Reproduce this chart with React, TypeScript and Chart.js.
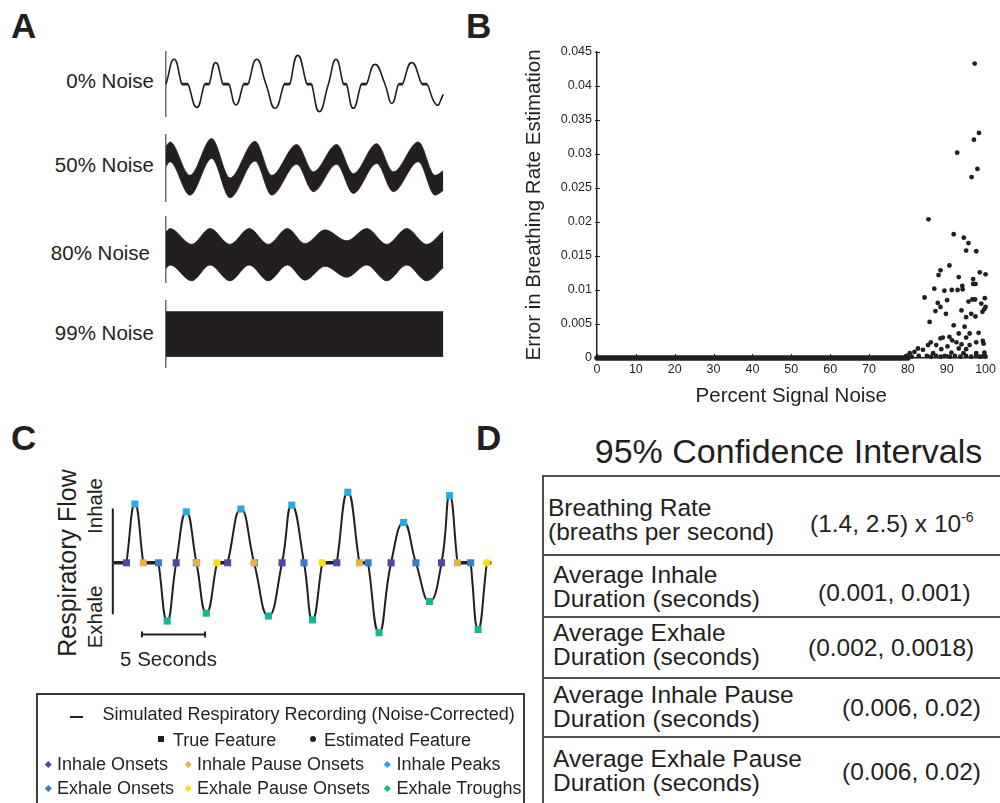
import React, { useEffect, useRef } from "react";
import { Chart, registerables } from "chart.js";
Chart.register(...registerables);

const FONT = "'Liberation Sans', Arial, Helvetica, sans-serif";
const INK = "#231F20";
const AXIS_GREY = "#6D6E71";

// ---------------- Panel A: simulated signals at several noise levels ----------------
const noiseLabels = ["0% Noise", "50% Noise", "80% Noise", "99% Noise"];

const cleanTime = [0, 0.58, 1.13, 1.61, 2.22, 2.77, 3.13, 3.59, 4.09, 4.57, 5.05, 5.58, 5.94, 6.55, 7.22, 7.87, 8.52, 8.95, 9.51, 10.16, 10.52, 11.07, 11.72, 12.27, 12.8, 13.05, 13.52, 14.08, 14.49, 15.09, 15.81, 16.3, 16.77, 17.09, 17.74, 18.46, 18.87, 19.55, 20.02];
const cleanFlow = [0, 1.14, 0, 0, -1.06, 0, 0, 0.99, 0, 0, -0.95, 0, 0, 1.14, 0, -1.1, 0, 0, 1.32, 0, 0, -1.26, 0, 1.14, 0, 0, -1.1, 0, 0, 0.91, 0, -0.88, 0, 0, 0.99, 0, 0, -0.95, -0.47];

const noise50Time = [0, 0.29, 1.73, 3.3, 4.62, 6.43, 7.63, 9.44, 10.64, 12.32, 13.52, 15.21, 16.41, 18.22, 19.42, 20.02];
const noise50Center = [0.55, 0.76, -0.76, 0.91, -0.88, 0.79, -0.76, 0.64, -0.6, 0.64, -0.68, 0.68, -0.6, 0.76, -0.76, -0.55];
const noise50Spread = 0.45;

const noise80Time = [0, 0.29, 1.86, 3.18, 4.62, 6.01, 7.39, 8.76, 10.04, 11.48, 13.05, 14.49, 15.94, 17.38, 18.82, 20.02];
const noise80Center = [0.2, 0.36, -0.36, 0.36, -0.36, 0.36, -0.36, 0.36, -0.33, 0.3, -0.2, 0.36, -0.36, 0.36, -0.36, 0.24];
const noise80Spread = 0.83;

const noise99Time = [0, 20.02];
const noise99Center = [0, 0];
const noise99Spread = 1.02;

// ---------------- Panel B: error vs noise ----------------
const errorNoise = [
  97.2, 98.3, 97.0, 92.7, 97.9, 96.4,
  85.3, 91.8, 94.4, 95.6, 95.0, 97.6, 88.4, 90.7, 87.9, 93.1, 98.5, 100, 96.8, 97.4, 96.8, 94.0, 86.8, 89.4,
  91.3, 92.8, 94.1, 84.3, 90.1, 99.8, 87.7, 95.6, 96.6, 97.3, 98.9, 88.4, 100, 99.7, 87.1, 89.8, 93.8, 99.2,
  96.3, 95.0, 97.4, 85.6, 91.8, 94.6,
  93.1, 95.9, 98.2, 90.7, 88.4, 89.0, 91.4, 95.0, 85.9, 85.2, 87.3, 92.5, 93.8, 97.6, 99.3, 99.5, 95.9, 90.2,
  82.6, 83.9, 88.6, 93.1, 95.0, 80.5, 81.7, 86.5, 91.2, 94.3, 97.6, 99.7,
  79.6, 81.0, 82.8, 84.9, 86.0, 87.3, 88.5, 89.5, 90.8, 92.1, 93.5, 95.0, 96.3, 97.6, 98.6, 99.5, 100,
];
const errorValue = [
  0.0433, 0.0331, 0.0321, 0.0302, 0.0278, 0.0266,
  0.0204, 0.0182, 0.0177, 0.0169, 0.0158, 0.0157, 0.0129, 0.0136, 0.0122, 0.0119, 0.0126, 0.0123, 0.0116, 0.0109, 0.0109, 0.0106, 0.0102, 0.0099,
  0.01, 0.01, 0.0101, 0.0089, 0.0085, 0.0088, 0.0081, 0.0083, 0.0086, 0.0086, 0.008, 0.0075, 0.0075, 0.0072, 0.0069, 0.0065, 0.007, 0.0068,
  0.0065, 0.006, 0.0061, 0.0053, 0.0048, 0.0046,
  0.0036, 0.0036, 0.0037, 0.0031, 0.0029, 0.003, 0.0026, 0.003, 0.0023, 0.0019, 0.0019, 0.0023, 0.002, 0.0023, 0.0025, 0.0021, 0.0019, 0.0017,
  0.0014, 0.0012, 0.0013, 0.0014, 0.0013, 0.0007, 0.0009, 0.0007, 0.0008, 0.0007, 0.0007, 0.0008,
  0.0003, 0.0002, 0.0003, 0.0003, 0.0002, 0.0003, 0.0002, 0.0003, 0.0002, 0.0003, 0.0002, 0.0003, 0.0002, 0.0003, 0.0002, 0.0003, 0.0002,
];
const zeroErrorNoise = [0, 80];
const zeroErrorValue = [0, 0];
const errorTickLabels = ["0", "0.005", "0.01", "0.015", "0.02", "0.025", "0.03", "0.035", "0.04", "0.045"];
const noiseTickLabels = ["0", "10", "20", "30", "40", "50", "60", "70", "80", "90", "100"];

// ---------------- Panel C: respiratory flow with features ----------------
const flowTime = [0.08, 1.08, 1.75, 2.41, 3.62, 4.31, 5.02, 5.82, 6.63, 7.41, 8.25, 9.1, 10.15, 11.2, 12.33, 13.41, 14.18, 15.15, 15.82, 16.59, 17.75, 18.62, 19.54, 20.23, 21.1, 22.05, 23.05, 24.02, 25.1, 26.05, 26.69, 27.31, 28.36, 28.95, 29.64, 30.0];
const flowValue = [0, 0, 1.05, 0, 0, -1.04, 0, 0.91, 0, -0.9, 0, 0, 0.96, 0, -0.95, 0, 1.03, 0, -1.02, 0, 0, 1.26, 0, 0, -1.25, 0, 0.72, 0, -0.69, 0, 1.2, 0, 0, -1.19, 0, 0];

const inhaleOnsetTime = [1.08, 5.02, 9.1, 13.41, 17.75, 22.05, 26.05];
const inhalePauseOnsetTime = [2.41, 19.54, 27.31];
const inhalePeakTime = [1.75, 5.82, 10.15, 14.18, 18.62, 23.05, 26.69];
const inhalePeakValue = [1.05, 0.91, 0.96, 1.03, 1.26, 0.72, 1.2];
const exhaleOnsetTime = [3.62, 6.62, 11.23, 15.15, 20.23, 24.02, 28.36];
const exhalePauseOnsetTime = [8.25, 16.59];
const exhaleTroughTime = [4.31, 7.41, 12.33, 15.82, 21.1, 25.1, 28.95];
const exhaleTroughValue = [-1.04, -0.9, -0.95, -1.02, -1.25, -0.69, -1.19];
const estInhalePauseOnsetTime = [6.64, 11.18];
const estExhalePauseOnsetTime = [29.64];

const flowAxisRange = [0.97, -0.92];
const scaleBarSeconds = [2.31, 7.31];
const scaleBarLevel = -1.28;

const featureColors = {
  inhaleOnset: "#4B4A9E",
  inhalePauseOnset: "#E7B24B",
  inhalePeak: "#27A9E1",
  exhaleOnset: "#3B7BC3",
  exhalePauseOnset: "#F6E01C",
  exhaleTrough: "#17B592",
};

// ---------------- Panel D: confidence intervals ----------------
const ciMeasures = [
  ["Breathing Rate", "(breaths per second)"],
  ["Average Inhale", "Duration (seconds)"],
  ["Average Exhale", "Duration (seconds)"],
  ["Average Inhale Pause", "Duration (seconds)"],
  ["Average Exhale Pause", "Duration (seconds)"],
];
const ciValues = ["(1.4, 2.5) x 10", "(0.001, 0.001)", "(0.002, 0.0018)", "(0.006, 0.02)", "(0.006, 0.02)"];
const ciExponents = ["-6", "", "", "", ""];

// ---------------------------------------------------------------------------
type P = { x: number; y: number | null };
const pts = (xs: number[], ys: number[]) => xs.map((x, i) => ({ x, y: ys[i] }));
const flat = (xs: number[], v = 0) => xs.map((x) => ({ x, y: v }));

// split a breathing trace into breath humps (smooth) and pauses (flat runs at zero)
function splitAtPauses(time: number[], flow: number[]) {
  const humps: P[][] = [];
  const pauses: P[] = [];
  let cur: P[] = [{ x: time[0], y: flow[0] }];
  for (let i = 1; i < time.length; i++) {
    const p = { x: time[i], y: flow[i] };
    if (flow[i] === 0 && flow[i - 1] === 0) {
      if (cur.length > 1) humps.push(cur);
      pauses.push({ x: time[i - 1], y: 0 }, p, { x: time[i], y: null });
      cur = [p];
    } else cur.push(p);
  }
  if (cur.length > 1) humps.push(cur);
  return { humps, pauses };
}

function traceDatasets(time: number[], flow: number[], width: number, pauseWidth: number, order: number) {
  const { humps, pauses } = splitAtPauses(time, flow);
  const sets: any[] = humps.map((h) => ({
    data: h,
    borderColor: INK,
    borderWidth: width,
    pointRadius: 0,
    tension: 0.5,
    fill: false,
    clip: false,
    order,
  }));
  sets.push({ data: pauses, borderColor: INK, borderWidth: pauseWidth, pointRadius: 0, spanGaps: false, fill: false, clip: false, order });
  return sets;
}

function ChartBox({ left, top, width, height, config }: { left: number; top: number; width: number; height: number; config: () => any }) {
  const ref = useRef<HTMLCanvasElement>(null);
  useEffect(() => {
    const chart = new Chart(ref.current as HTMLCanvasElement, config());
    return () => chart.destroy();
  }, []);
  return (
    <div style={{ position: "absolute", left, top, width, height }}>
      <canvas ref={ref} width={width} height={height} style={{ width, height, display: "block" }} />
    </div>
  );
}

function waveRowConfig(time: number[], center: number[], spread: number, yMin: number, yMax: number) {
  const common = { pointRadius: 0, cubicInterpolationMode: "monotone", borderColor: INK };
  const datasets =
    spread === 0
      ? traceDatasets(time, center, 1.6, 2.8, 0)
      : [
          { ...common, data: time.map((t, i) => ({ x: t, y: center[i] + spread })), borderWidth: 0.8, fill: "+1", backgroundColor: INK },
          { ...common, data: time.map((t, i) => ({ x: t, y: center[i] - spread })), borderWidth: 0.8, fill: false },
        ];
  return {
    type: "line",
    data: { datasets },
    options: {
      animation: false,
      responsive: false,
      events: [],
      layout: { padding: { left: 2, right: 0, top: 0, bottom: 0 } },
      plugins: { legend: { display: false }, tooltip: { enabled: false } },
      scales: {
        x: { type: "linear", min: 0, max: 20.07, display: false },
        y: {
          type: "linear",
          min: yMin,
          max: yMax,
          display: true,
          grid: { display: false, drawTicks: false },
          ticks: { display: false },
          border: { display: true, color: AXIS_GREY, width: 1.5 },
          afterFit: (s: any) => {
            s.width = 0;
          },
        },
      },
    },
  };
}

const inwardTicks = {
  id: "inwardTicks",
  afterDraw(chart: any) {
    const { ctx, chartArea } = chart;
    const x = chart.scales.x;
    const y = chart.scales.y;
    ctx.save();
    ctx.strokeStyle = INK;
    ctx.lineWidth = 1;
    x.ticks.forEach((t: any) => {
      const px = Math.round(x.getPixelForValue(t.value)) + 0.5;
      ctx.beginPath();
      ctx.moveTo(px, chartArea.bottom);
      ctx.lineTo(px, chartArea.bottom - 4);
      ctx.stroke();
    });
    y.ticks.forEach((t: any) => {
      const py = Math.round(y.getPixelForValue(t.value)) + 0.5;
      ctx.beginPath();
      ctx.moveTo(chartArea.left - 2, py);
      ctx.lineTo(chartArea.left + 3, py);
      ctx.stroke();
    });
    ctx.restore();
  },
};

function scatterConfig() {
  const tickFont = { family: FONT, size: 12.5 };
  return {
    type: "scatter",
    data: {
      datasets: [
        { data: pts(errorNoise, errorValue), pointRadius: 2.4, backgroundColor: INK, borderWidth: 0, clip: 6, order: 0 },
        {
          data: pts(zeroErrorNoise, zeroErrorValue),
          showLine: true,
          borderColor: INK,
          borderWidth: 5.5,
          borderCapStyle: "round",
          pointRadius: 0,
          clip: 6,
          order: 1,
        },
      ],
    },
    options: {
      animation: false,
      responsive: false,
      events: [],
      layout: { padding: { left: 0, right: 14, top: 22, bottom: 0 } },
      plugins: { legend: { display: false }, tooltip: { enabled: false } },
      scales: {
        x: {
          type: "linear",
          min: 0,
          max: 100,
          grid: { display: false, drawTicks: false },
          border: { display: true, color: INK, width: 1.5 },
          ticks: { stepSize: 10, font: tickFont, color: INK, padding: 4, maxRotation: 0, callback: (_v: any, i: number) => noiseTickLabels[i] },
          title: { display: true, text: "Percent Signal Noise", font: { family: FONT, size: 20.5 }, color: INK, padding: { top: 0, bottom: 1 } },
          afterFit: (s: any) => {
            s.height = 52;
          },
        },
        y: {
          type: "linear",
          min: 0,
          max: 0.045,
          grid: { display: false, drawTicks: false },
          border: { display: true, color: INK, width: 1.5 },
          ticks: { stepSize: 0.005, font: tickFont, color: INK, padding: 5, callback: (_v: any, i: number) => errorTickLabels[i] },
          title: { display: true, text: "Error in Breathing Rate Estimation", font: { family: FONT, size: 20.5 }, color: INK, padding: { top: 42, bottom: 0 } },
          afterFit: (s: any) => {
            s.width = 117;
          },
        },
      },
    },
    plugins: [inwardTicks],
  };
}

function flowConfig() {
  const marker = (data: any[], color: string, style: string, radius: number, order: number) => ({
    data,
    showLine: false,
    pointStyle: style,
    pointRadius: radius,
    pointBackgroundColor: color,
    pointBorderColor: color,
    pointBorderWidth: 0,
    clip: false,
    order,
  });
  return {
    type: "line",
    data: {
      datasets: [
        marker(flat(estInhalePauseOnsetTime), featureColors.inhalePauseOnset, "circle", 3.8, 0),
        marker(flat(estExhalePauseOnsetTime), featureColors.exhalePauseOnset, "circle", 3.8, 0),
        marker(flat(inhaleOnsetTime), featureColors.inhaleOnset, "rect", 5, 1),
        marker(flat(inhalePauseOnsetTime), featureColors.inhalePauseOnset, "rect", 5, 1),
        marker(pts(inhalePeakTime, inhalePeakValue), featureColors.inhalePeak, "rect", 5, 1),
        marker(flat(exhaleOnsetTime), featureColors.exhaleOnset, "rect", 5, 2),
        marker(flat(exhalePauseOnsetTime), featureColors.exhalePauseOnset, "rect", 5, 1),
        marker(pts(exhaleTroughTime, exhaleTroughValue), featureColors.exhaleTrough, "rect", 5, 1),
        ...traceDatasets(flowTime, flowValue, 2, 3.6, 5),
        {
          data: [
            { x: 0, y: flowAxisRange[0] },
            { x: 0, y: flowAxisRange[1] },
          ],
          borderColor: INK,
          borderWidth: 2,
          pointRadius: 0,
          clip: false,
          order: 5,
        },
        {
          data: flat(scaleBarSeconds, scaleBarLevel),
          borderColor: INK,
          borderWidth: 2,
          pointStyle: "line",
          pointRotation: 90,
          pointRadius: 3,
          pointBorderWidth: 2,
          pointBorderColor: INK,
          clip: false,
          order: 5,
        },
      ],
    },
    options: {
      animation: false,
      responsive: false,
      events: [],
      layout: { padding: 0 },
      plugins: { legend: { display: false }, tooltip: { enabled: false } },
      scales: {
        x: { type: "linear", min: -0.54, max: 31.0, display: false },
        y: { type: "linear", min: -1.45, max: 1.55, display: false },
      },
    },
  };
}

type TxtProps = { x: number; y: number; size: number; children: React.ReactNode; align?: "left" | "right" | "center"; bold?: boolean; rotate?: boolean };
function Txt({ x, y, size, children, align = "left", bold, rotate }: TxtProps) {
  const tx = align === "left" ? "0" : align === "right" ? "-100%" : "-50%";
  const style: React.CSSProperties = {
    position: "absolute",
    left: x,
    top: y,
    fontSize: size,
    lineHeight: 1,
    fontFamily: FONT,
    color: INK,
    whiteSpace: "nowrap",
    fontWeight: bold ? 700 : 400,
    transform: rotate ? "translate(-50%,-50%) rotate(-90deg)" : `translate(${tx},-50%)`,
  };
  return <div style={style}>{children}</div>;
}

function Diamond({ x, y, color }: { x: number; y: number; color: string }) {
  return (
    <div
      style={{ position: "absolute", left: x - 2.3, top: y - 2.3, width: 4.6, height: 4.6, background: color, transform: "rotate(45deg)" }}
    />
  );
}

function HLine({ x1, x2, y, w = 2, color = "#4D4D4F" }: { x1: number; x2: number; y: number; w?: number; color?: string }) {
  return <div style={{ position: "absolute", left: x1, top: y - w / 2, width: x2 - x1, height: w, background: color }} />;
}
function VLine({ x, y1, y2, w = 2, color = "#4D4D4F" }: { x: number; y1: number; y2: number; w?: number; color?: string }) {
  return <div style={{ position: "absolute", left: x - w / 2, top: y1, width: w, height: y2 - y1, background: color }} />;
}

export default function App() {
  const rowLabelY = [81, 165, 253, 333];
  const rowLabelX = [154, 154, 150, 154];
  const ciRowLines = [508, 575, 633.3, 695, 759.3];
  const ciRowLeft = [548, 553, 553, 553, 553];
  const ciValueLeft = [810, 818, 808, 842, 842];
  const ciValueY = [523, 592.7, 648.3, 708.3, 771.7];
  const legendRows: [string, string, string, string, string, string][] = [
    ["Inhale Onsets", featureColors.inhaleOnset, "Inhale Pause Onsets", featureColors.inhalePauseOnset, "Inhale Peaks", featureColors.inhalePeak],
    ["Exhale Onsets", featureColors.exhaleOnset, "Exhale Pause Onsets", featureColors.exhalePauseOnset, "Exhale Troughs", featureColors.exhaleTrough],
  ];
  return (
    <div style={{ position: "absolute", left: 0, top: 0, width: 1000, height: 803, background: "#fff", overflow: "hidden" }}>
      {/* Panel letters */}
      <Txt x={11} y={25} size={35} bold>A</Txt>
      <Txt x={466} y={25} size={35} bold>B</Txt>
      <Txt x={11} y={437} size={35} bold>C</Txt>
      <Txt x={476} y={437} size={35} bold>D</Txt>

      {/* Panel A */}
      {noiseLabels.map((l, i) => (
        <Txt key={l} x={rowLabelX[i]} y={rowLabelY[i]} size={20.5} align="right">
          {l}
        </Txt>
      ))}
      <ChartBox left={164} top={50.5} width={280} height={66.5} config={() => waveRowConfig(cleanTime, cleanFlow, 0, -1.5, 1.52)} />
      <ChartBox left={164} top={133.5} width={280} height={68} config={() => waveRowConfig(noise50Time, noise50Center, noise50Spread, -1.52, 1.57)} />
      <ChartBox left={164} top={216} width={280} height={67} config={() => waveRowConfig(noise80Time, noise80Center, noise80Spread, -1.29, 1.76)} />
      <ChartBox left={164} top={300} width={280} height={68} config={() => waveRowConfig(noise99Time, noise99Center, noise99Spread, -1.54, 1.55)} />

      {/* Panel B */}
      <ChartBox left={480} top={30} width={520} height={380} config={scatterConfig} />

      {/* Panel C */}
      <Txt x={67} y={563} size={25} rotate>Respiratory Flow</Txt>
      <Txt x={95} y={506} size={20.5} rotate>Inhale</Txt>
      <Txt x={95} y={617} size={20.5} rotate>Exhale</Txt>
      <ChartBox left={100} top={470} width={410} height={180} config={flowConfig} />
      <Txt x={168.5} y={659} size={20.5} align="center">5 Seconds</Txt>

      {/* Panel C legend */}
      <div style={{ position: "absolute", left: 36, top: 693, width: 489, height: 130, border: "2px solid #3A3A3C", boxSizing: "border-box" }} />
      <HLine x1={70} x2={83} y={717} w={2} color={INK} />
      <Txt x={102.5} y={714} size={18}>Simulated Respiratory Recording (Noise-Corrected)</Txt>
      <div style={{ position: "absolute", left: 157.5, top: 736, width: 6, height: 6, background: INK }} />
      <Txt x={173} y={740} size={18}>True Feature</Txt>
      <div style={{ position: "absolute", left: 310, top: 735.5, width: 6, height: 6, borderRadius: 3, background: INK }} />
      <Txt x={324} y={740} size={18}>Estimated Feature</Txt>
      {legendRows.map((r, i) => {
        const y = [764.3, 788.3][i];
        return (
          <React.Fragment key={i}>
            <Diamond x={48.3} y={y} color={r[1]} />
            <Txt x={57} y={y} size={18}>{r[0]}</Txt>
            <Diamond x={188.3} y={y} color={r[3]} />
            <Txt x={197} y={y} size={18}>{r[2]}</Txt>
            <Diamond x={387.3} y={y} color={r[5]} />
            <Txt x={396.5} y={y} size={18}>{r[4]}</Txt>
          </React.Fragment>
        );
      })}

      {/* Panel D */}
      <Txt x={788.5} y={451} size={34} align="center">95% Confidence Intervals</Txt>
      <VLine x={542.7} y1={475} y2={803} />
      <HLine x1={541.7} x2={1000} y={476} />
      <HLine x1={541.7} x2={1000} y={555} />
      <HLine x1={541.7} x2={1000} y={617.3} />
      <HLine x1={541.7} x2={1000} y={678.3} />
      <HLine x1={541.7} x2={1000} y={737.3} />
      {ciMeasures.map((m, i) => (
        <React.Fragment key={i}>
          <Txt x={ciRowLeft[i]} y={ciRowLines[i]} size={24.5}>{m[0]}</Txt>
          <Txt x={ciRowLeft[i]} y={ciRowLines[i] + 23.8} size={24.5}>{m[1]}</Txt>
          <Txt x={ciValueLeft[i]} y={ciValueY[i]} size={24.5}>
            {ciValues[i]}
            {ciExponents[i] ? <sup style={{ fontSize: 14, verticalAlign: "0.75em" }}>{ciExponents[i]}</sup> : null}
          </Txt>
        </React.Fragment>
      ))}
    </div>
  );
}
